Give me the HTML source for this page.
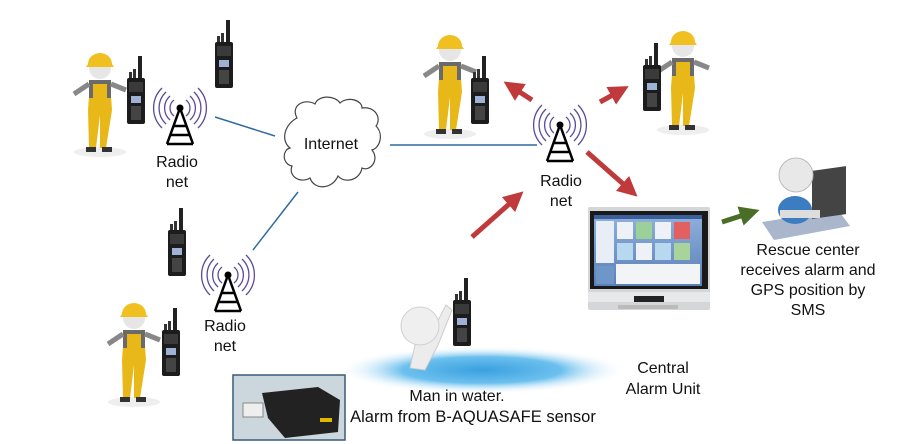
<!DOCTYPE html>
<html><head><meta charset="utf-8"><style>
html,body{margin:0;padding:0;background:#fff;width:900px;height:444px;overflow:hidden}
svg{display:block}
text{font-family:"Liberation Sans",Arial,sans-serif;fill:#111}
</style></head><body>
<svg width="900" height="444" viewBox="0 0 900 444" xmlns="http://www.w3.org/2000/svg">
<defs>
<g id="radio">
  <rect x="11" y="-22" width="4" height="24" fill="#222"/>
  <rect x="2" y="-6" width="3" height="7" fill="#333"/>
  <rect x="6" y="-9" width="3" height="10" fill="#333"/>
  <rect x="0" y="0" width="18" height="46" rx="2" fill="#1c1c1c"/>
  <rect x="2" y="4" width="14" height="10" fill="#3a3a3a"/>
  <rect x="4" y="18" width="10" height="7" fill="#9fb2d6"/>
  <rect x="4" y="28" width="10" height="14" fill="#444"/>
</g>
<g id="tower">
  <path d="M-14,-24 A22,22 0 0,0 -14,8 M-10,-20 A16,16 0 0,0 -10,4 M-6,-16 A10,10 0 0,0 -6,0 M-18,-28 A28,28 0 0,0 -18,12 M14,-24 A22,22 0 0,1 14,8 M10,-20 A16,16 0 0,1 10,4 M6,-16 A10,10 0 0,1 6,0 M18,-28 A28,28 0 0,1 18,12" fill="none" stroke="#5a4a9a" stroke-width="1.3"/>
  <circle cx="0" cy="-8" r="3.5" fill="#000"/>
  <path d="M0,-8 L-13,28 M0,-8 L13,28 M-6,10 L6,10 M-9,19 L9,19 M-13,28 L13,28" stroke="#000" stroke-width="2.5" fill="none"/>
</g>
<g id="worker">
  <ellipse cx="0" cy="92" rx="26" ry="5" fill="#eee"/>
  <path d="M-10,22 L10,22 L12,50 L6,88 L0,88 L0,55 L-4,88 L-11,88 L-12,50 Z" fill="#e8b819"/>
  <rect x="-11" y="20" width="22" height="18" fill="#6a6a6a"/>
  <rect x="-7" y="24" width="14" height="22" fill="#e8b819"/>
  <path d="M-11,24 L-26,34 M11,24 L26,30" stroke="#888" stroke-width="5"/>
  <circle cx="0" cy="8" r="11" fill="#e6e6e6"/>
  <path d="M-12,4 A12,11 0 0,1 12,4 L14,7 L-14,7 Z" fill="#f0c020"/>
  <rect x="-14" y="87" width="10" height="5" fill="#333"/>
  <rect x="2" y="87" width="10" height="5" fill="#333"/>
</g>
<linearGradient id="scr" x1="0" y1="0" x2="0" y2="1"><stop offset="0" stop-color="#8fb0dc"/><stop offset="1" stop-color="#5a80b8"/></linearGradient>
<radialGradient id="wat" cx="0.5" cy="0.5" r="0.5"><stop offset="0" stop-color="#3aa0e0"/><stop offset="0.55" stop-color="#6cc0ee"/><stop offset="1" stop-color="#ffffff" stop-opacity="0"/></radialGradient>
<marker id="ar" markerWidth="4" markerHeight="4" refX="2" refY="2" orient="auto"><path d="M0,0 L4,2 L0,4 Z" fill="#c0393b"/></marker>
<marker id="ag" markerWidth="4" markerHeight="4" refX="2" refY="2" orient="auto"><path d="M0,0 L4,2 L0,4 Z" fill="#4a6e28"/></marker>
</defs>

<g stroke="#2e6aa0" stroke-width="1.5">
<line x1="215" y1="117" x2="275" y2="136"/>
<line x1="298" y1="192" x2="253" y2="250"/>
<line x1="390" y1="145" x2="537" y2="145"/>
</g>

<path d="M297,118 C290,105 305,98 315,104 C318,95 335,95 340,103 C348,96 362,100 362,108 C375,106 382,118 376,126 C384,134 380,148 372,150 C380,160 370,172 362,168 C360,180 345,184 338,176 C332,190 314,190 310,178 C300,184 288,176 292,166 C282,164 282,150 290,148 C280,140 285,124 297,118 Z" fill="#fff" stroke="#444" stroke-width="1.2"/>
<text x="331" y="149" font-size="16" text-anchor="middle">Internet</text>

<use href="#tower" x="180" y="116"/>
<use href="#tower" x="228" y="283"/>
<use href="#tower" x="560" y="133"/>
<text x="177" y="167" font-size="16" text-anchor="middle">Radio</text>
<text x="177" y="187" font-size="16" text-anchor="middle">net</text>
<text x="225" y="331" font-size="16" text-anchor="middle">Radio</text>
<text x="225" y="351" font-size="16" text-anchor="middle">net</text>
<text x="561" y="186" font-size="16" text-anchor="middle">Radio</text>
<text x="561" y="206" font-size="16" text-anchor="middle">net</text>

<g stroke="#c0393b" stroke-width="5" marker-end="url(#ar)">
<line x1="532" y1="100" x2="512" y2="87"/>
<line x1="600" y1="102" x2="620" y2="91"/>
<line x1="587" y1="152" x2="630" y2="190"/>
<line x1="472" y1="237" x2="516" y2="198"/>
</g>
<line x1="722" y1="222" x2="750" y2="213" stroke="#4a6e28" stroke-width="5" marker-end="url(#ag)"/>

<use href="#worker" x="100" y="60"/>
<use href="#worker" x="134" y="310"/>
<use href="#worker" x="450" y="42"/>
<use href="#worker" x="683" y="38"/>

<use href="#radio" x="127" y="78"/>
<use href="#radio" x="215" y="42"/>
<use href="#radio" x="168" y="230"/>
<use href="#radio" x="162" y="330"/>
<use href="#radio" x="471" y="78"/>
<use href="#radio" x="643" y="65"/>

<rect x="588" y="207" width="122" height="103" rx="2" fill="#d4d6d8"/>
<rect x="590" y="211" width="118" height="78" fill="#1a1a1a"/>
<rect x="594" y="215" width="108" height="71" fill="url(#scr)"/>
<rect x="594" y="215" width="108" height="4" fill="#3b5f9a"/>
<rect x="596" y="221" width="18" height="42" fill="#e8eef6"/>
<g fill="#eef2f6"><rect x="617" y="222" width="16" height="17"/><rect x="636" y="222" width="16" height="17" fill="#9cd09a"/><rect x="655" y="222" width="16" height="17"/><rect x="674" y="222" width="16" height="17" fill="#e26060"/>
<rect x="617" y="243" width="16" height="17" fill="#b8d8f0"/><rect x="636" y="243" width="16" height="17"/><rect x="655" y="243" width="16" height="17" fill="#b8d8f0"/><rect x="674" y="243" width="16" height="17" fill="#a8d49a"/></g>
<rect x="616" y="264" width="84" height="20" fill="#f2f4f6"/>
<rect x="596" y="266" width="18" height="18" fill="#6f96c8"/>
<rect x="588" y="292" width="122" height="10" fill="#e6e8ea"/>
<rect x="634" y="296" width="30" height="6" fill="#222"/>
<rect x="618" y="305" width="60" height="4" fill="#bbb"/>

<path d="M762,222 L838,210 L850,226 L774,240 Z" fill="#a9b6cc"/>
<rect x="812" y="170" width="34" height="48" fill="#444" transform="skewY(-8) translate(0,115)"/>
<ellipse cx="795" cy="210" rx="17" ry="14" fill="#3c7cc0"/>
<circle cx="796" cy="175" r="17" fill="#e8e8e8" stroke="#bbb"/>
<rect x="780" y="210" width="40" height="8" fill="#ddd"/>

<ellipse cx="482" cy="370" rx="145" ry="24" fill="url(#wat)"/>
<path d="M410,368 L416,340 L430,336 L446,305 L452,310 L438,345 L425,370 Z" fill="#ececec" stroke="#ccc"/>
<circle cx="420" cy="326" r="19" fill="#efefef" stroke="#d0d0d0"/>
<use href="#radio" x="453" y="300"/>
<text x="457" y="401" font-size="16" text-anchor="middle">Man in water.</text>
<text x="473" y="422" font-size="16.5" text-anchor="middle">Alarm from B-AQUASAFE sensor</text>

<rect x="233" y="375" width="112" height="65" fill="#ccd6dd" stroke="#3a5a78" stroke-width="1.5"/>
<path d="M262,393 L318,387 L340,400 L338,432 L285,438 L268,418 Z" fill="#222"/>
<rect x="243" y="403" width="20" height="14" fill="#eee" stroke="#888"/>
<rect x="320" y="418" width="12" height="4" fill="#e0b800"/>

<text x="663" y="373" font-size="16" text-anchor="middle">Central</text>
<text x="663" y="394" font-size="16" text-anchor="middle">Alarm Unit</text>

<text x="808" y="255" font-size="16" text-anchor="middle">Rescue center</text>
<text x="808" y="275" font-size="16" text-anchor="middle">receives alarm and</text>
<text x="808" y="295" font-size="16" text-anchor="middle">GPS position by</text>
<text x="808" y="315" font-size="16" text-anchor="middle">SMS</text>
</svg>
</body></html>
